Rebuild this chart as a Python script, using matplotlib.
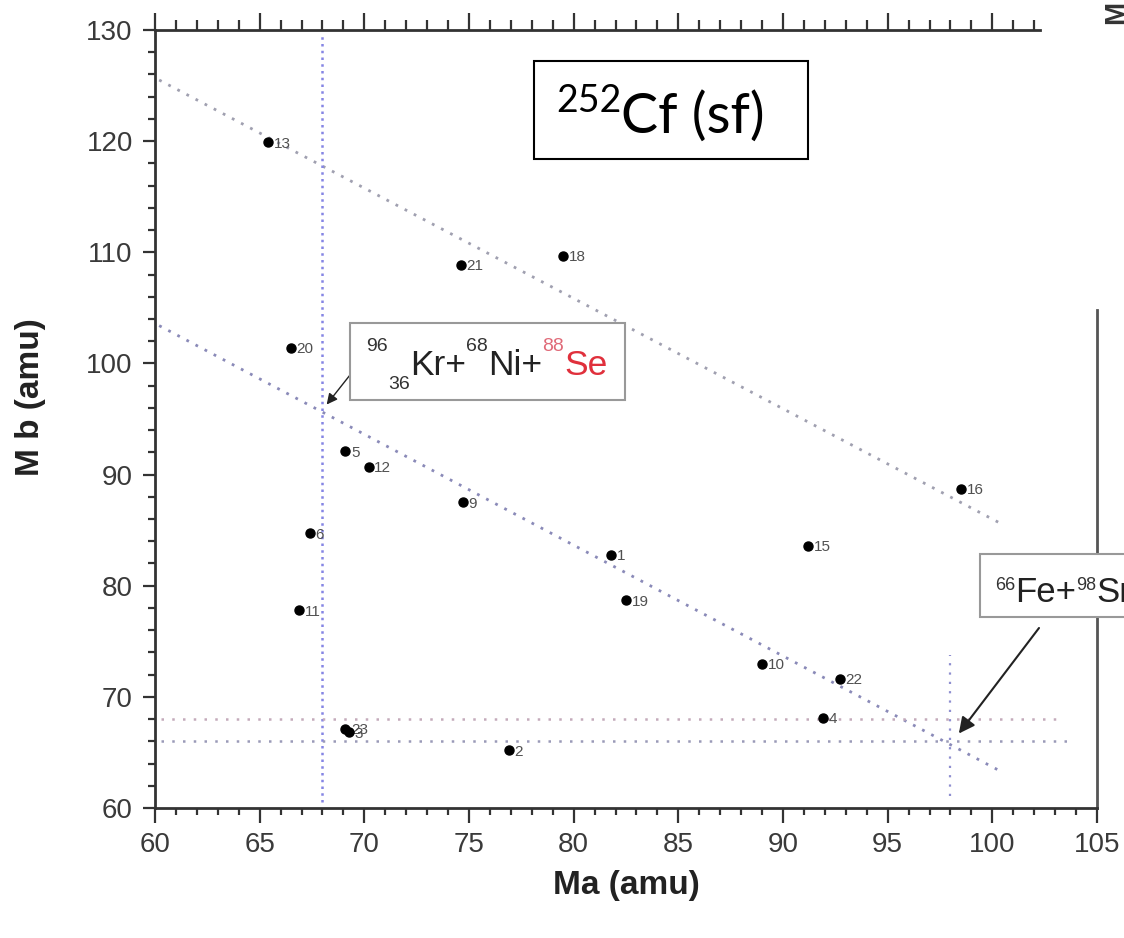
import matplotlib
matplotlib.use("Agg")
import matplotlib.pyplot as plt
from matplotlib.patches import Rectangle
from matplotlib.transforms import IdentityTransform

# points: (Ma, Mb) with their run number
labels = ["1", "2", "3", "4", "5", "6", "9", "10", "11", "12", "13",
          "15", "16", "18", "19", "20", "21", "22", "23"]
ma = [81.8, 76.9, 69.25, 91.9, 69.1, 67.4, 74.7, 89.0, 66.9, 70.2, 65.4,
      91.2, 98.5, 79.5, 82.5, 66.5, 74.6, 92.7, 69.1]
mb = [82.8, 65.2, 66.8, 68.1, 92.1, 84.7, 87.5, 73.0, 77.8, 90.7, 119.9,
      83.6, 88.7, 109.7, 78.7, 101.4, 108.9, 71.6, 67.1]

# guide lines (Ma + Mb = const, and fixed masses)
upper_x = [60.2, 100.4]
upper_y = [125.5, 85.6]
lower_x = [60.2, 100.4]
lower_y = [103.4, 63.3]
v68_y = [60.5, 129.5]
v98_y = [61.1, 73.8]
h68_x = [60.3, 103.4]
h66_x = [60.3, 103.8]

W, H = 1124, 938
fig = plt.figure(figsize=(W / 100, H / 100), dpi=100)
ax = fig.add_axes([155 / W, 1 - 808 / H, 942 / W, 778 / H])
ax.set_xlim(60, 105)
ax.set_ylim(60, 130)

ax.plot(upper_x, upper_y, color="#a0a0b0", lw=2, ls=(0, (1, 2.7)))
ax.plot(lower_x, lower_y, color="#8a8ab8", lw=2, ls=(0, (1, 2.7)))
ax.plot([68, 68], v68_y, color="#8585e4", lw=1.8, ls=(0, (1, 1.7)))
ax.plot([98, 98], v98_y, color="#8f8fd0", lw=1.6, ls=(0, (1, 3.2)))
ax.plot(h68_x, [68, 68], color="#c4aabb", lw=1.8, ls=(0, (1, 3.3)))
ax.plot(h66_x, [66, 66], color="#9a9ab8", lw=1.8, ls=(0, (1, 3.3)))

ax.plot(ma, mb, "o", color="black", ms=6.5, zorder=5)
for lab, x, y in zip(labels, ma, mb):
    ax.annotate(lab, (x, y), xytext=(4, -1), textcoords="offset points",
                va="center", ha="left", fontsize=11, color="#505050",
                family="Liberation Sans")

# axes styling
spc = "#333333"
for s in ["left", "bottom", "right"]:
    ax.spines[s].set_color(spc)
    ax.spines[s].set_linewidth(2)
ax.spines["top"].set_visible(False)
ax.spines["right"].set_bounds(60, 104.8)
ax.spines["right"].set_color("#555555")

ax.set_xticks(range(60, 106, 5))
ax.set_xticks([v for v in range(60, 106) if v % 5], minor=True)
ax.set_yticks(range(60, 131, 10))
ax.set_yticks([v for v in range(60, 131, 2) if v % 10], minor=True)
ax.tick_params(which="both", direction="out", width=1.6, color=spc,
               labelsize=20, labelcolor="#3a3a3a", right=False, top=False)
ax.tick_params(which="major", length=9)
ax.tick_params(which="minor", length=5)
ax.tick_params(axis="x", which="major", length=11, pad=6)
ax.tick_params(axis="y", which="major", pad=7)
for t in ax.get_xticklabels() + ax.get_yticklabels():
    t.set_family("Liberation Sans")

top = ax.secondary_xaxis("top")
top.set_xticks(range(60, 101, 5))
top.set_xticks([v for v in range(60, 103) if v % 5], minor=True)
top.tick_params(which="both", direction="out", width=1.6, color=spc,
                labeltop=False)
top.tick_params(which="major", length=12)
top.tick_params(which="minor", length=7)
top.spines["top"].set_bounds(60, 102.3)
top.spines["top"].set_color(spc)
top.spines["top"].set_linewidth(2)

fig.text(626 / W, 1 - 885 / H, "Ma (amu)", ha="center", va="center",
         fontsize=24, fontweight="bold", color="#222222",
         family="Liberation Sans")
fig.text(31 / W, 1 - 397 / H, "M b (amu)", ha="center", va="center",
         rotation=90, fontsize=24, fontweight="bold", color="#222222",
         family="Liberation Sans")
fig.text(1116 / W, 1 - 12 / H, "M", ha="center", va="center", rotation=90,
         fontsize=20, fontweight="bold", color="#333333",
         family="Liberation Sans")

ident = IdentityTransform()
renderer = fig.canvas.get_renderer()


def box(x0, y0, x1, y1, ec):
    r = Rectangle((x0, H - y1), x1 - x0, y1 - y0, transform=ident,
                  fc="white", ec=ec, lw=1.5, zorder=2)
    fig.add_artist(r)


def piece(x, y, s, size, color, family):
    t = fig.text(x, H - y, s, transform=ident, fontsize=size, color=color,
                 family=family, va="baseline", ha="left", zorder=3)
    return t.get_window_extent(renderer).x1


# 252Cf (sf)
box(534, 61, 808, 159, "black")
x = piece(556, 112, "252", 27, "black", "Lato")
piece(x, 133, "Cf (sf)", 40, "black", "Lato")

# 96/36 Kr + 68 Ni + 88 Se
box(350, 323, 625, 400, "#999999")
fam = "Liberation Sans"
x = piece(366, 351, "96", 14, "#333333", fam)
x = piece(x + 1, 389, "36", 14, "#333333", fam)
x = piece(x, 375, "Kr+", 25.5, "#222222", fam)
x = piece(x, 351, "68", 14, "#333333", fam)
x = piece(x, 375, "Ni+", 25.5, "#222222", fam)
x = piece(x, 351, "88", 14, "#e06a78", fam)
piece(x, 375, "Se", 25.5, "#e0303c", fam)

# 66Fe + 98Sr (cut off at the right edge)
box(980, 554, 1140, 617, "#999999")
x = piece(995, 590, "66", 13, "#333333", fam)
x = piece(x, 602, "Fe+", 25, "#222222", fam)
x = piece(x, 590, "98", 13, "#333333", fam)
piece(x, 602, "Sr", 25, "#222222", fam)

ax.annotate("", xy=(68.2, 96.3), xytext=(350, H - 375),
            textcoords="figure pixels",
            arrowprops=dict(arrowstyle="-|>", color="#222222", lw=1,
                            mutation_scale=16, shrinkA=0, shrinkB=0))
ax.annotate("", xy=(98.4, 66.7), xytext=(1039, H - 628),
            textcoords="figure pixels",
            arrowprops=dict(arrowstyle="-|>", color="#222222", lw=1.5,
                            mutation_scale=24, shrinkA=0, shrinkB=0))

fig.savefig("out.png", dpi=100)
